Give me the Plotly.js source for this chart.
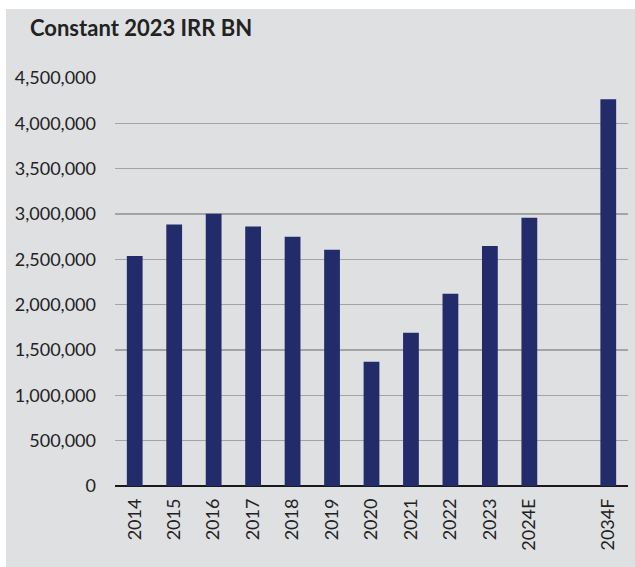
<!DOCTYPE html>
<html>
<head>
<meta charset="utf-8">
<script src="https://cdn.plot.ly/plotly-3.0.1.min.js"></script>
<style>
  html, body { margin: 0; padding: 0; background: #ffffff; width: 635px; height: 567px; overflow: hidden; }
  #chart { position: absolute; left: 6px; top: 9px; width: 629px; height: 558px; }
</style>
</head>
<body>
<div id="chart"></div>
<script>
const categories = ['2014', '2015', '2016', '2017', '2018', '2019', '2020', '2021', '2022', '2023', '2024E', ' ', '2034F'];
const values = [2536000, 2883000, 3004000, 2861000, 2750000, 2607000, 1371000, 1691000, 2121000, 2647000, 2960000, null, 4266000];
const yTicks = [0, 500000, 1000000, 1500000, 2000000, 2500000, 3000000, 3500000, 4000000, 4500000];
const yTickLabels = ['0', '500,000', '1,000,000', '1,500,000', '2,000,000', '2,500,000', '3,000,000', '3,500,000', '4,000,000', '4,500,000'];

const trace = {
  type: 'bar',
  x: categories,
  y: values,
  marker: { color: '#232c6a', line: { width: 0 } },
  hoverinfo: 'x+y'
};

const layout = {
  width: 629,
  height: 558,
  paper_bgcolor: '#dfe0e2',
  plot_bgcolor: '#dfe0e2',
  margin: { l: 109, r: 7, t: 69, b: 81, pad: 0 },
  bargap: 0.6,
  showlegend: false,
  font: { family: 'Lato, "Open Sans", sans-serif', color: '#222222', size: 18 },
  title: {
    text: '<b>Constant 2023 IRR BN</b>',
    xref: 'container', yref: 'container',
    x: 24 / 629, xanchor: 'left',
    y: 1 - 19 / 558, yanchor: 'middle',
    font: { family: 'Lato, "Open Sans", sans-serif', size: 22, color: '#222222' }
  },
  xaxis: {
    type: 'category',
    categoryorder: 'array',
    categoryarray: categories,
    range: [-0.5, 12.5],
    tickangle: -90,
    showgrid: false,
    showline: false,
    zeroline: false,
    ticks: '',
    ticklabelstandoff: 8,
    tickfont: { size: 18, color: '#222222' },
    fixedrange: true
  },
  yaxis: {
    range: [0, 4500000],
    tickmode: 'array',
    tickvals: yTicks,
    ticktext: yTickLabels,
    showgrid: true,
    gridcolor: '#a3a4a6',
    gridwidth: 1.5,
    zeroline: true,
    zerolinecolor: '#1a1a1a',
    zerolinewidth: 2.5,
    showline: false,
    ticks: '',
    ticklabelstandoff: 18,
    tickfont: { size: 18, color: '#222222' },
    fixedrange: true
  }
};

Plotly.newPlot('chart', [trace], layout, { displayModeBar: false, staticPlot: true });
</script>
</body>
</html>
